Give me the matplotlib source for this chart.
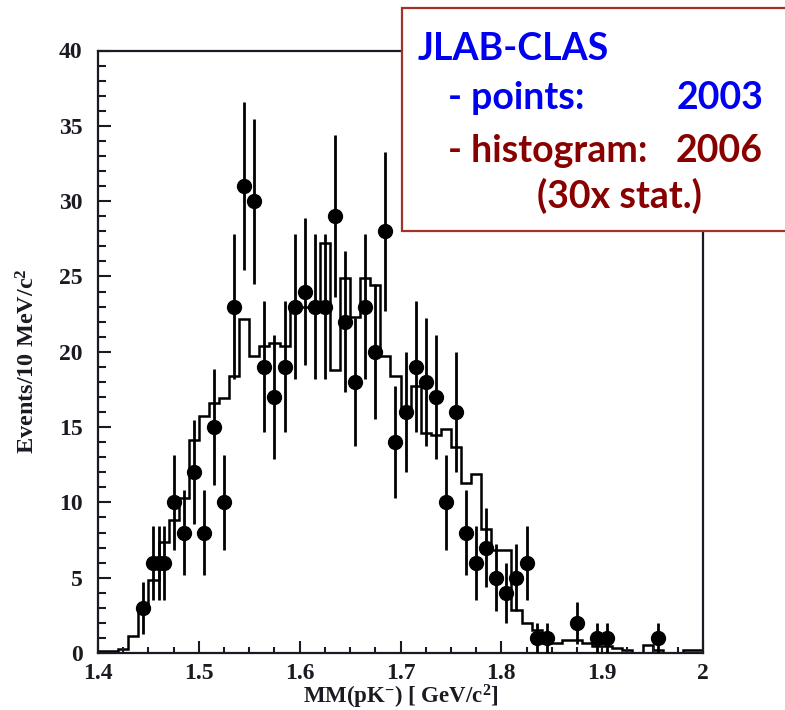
import numpy as np
import matplotlib
matplotlib.use("Agg")
import matplotlib.pyplot as plt
from matplotlib.patches import Rectangle
from matplotlib.ticker import MultipleLocator, FixedFormatter, FixedLocator

plt.rcParams["font.family"] = "Liberation Serif"
plt.rcParams["font.weight"] = "bold"
plt.rcParams["axes.labelweight"] = "bold"
plt.rcParams["mathtext.fontset"] = "custom"
plt.rcParams["mathtext.rm"] = "Liberation Serif:bold"
plt.rcParams["mathtext.it"] = "Liberation Serif:bold"
plt.rcParams["mathtext.bf"] = "Liberation Serif:bold"

# 2006 histogram, 10 MeV bins from 1.40 to 2.00 GeV
hist_edges = np.linspace(1.40, 2.00, 61)
hist_counts = [
    0.15, 0.15, 0.25, 1.1, 3.0, 4.85, 7.4, 8.8, 10.3, 14.15,
    15.75, 16.6, 16.9, 18.4, 22.2, 19.7, 20.4, 20.6, 20.4, 23.0,
    23.0, 23.0, 27.2, 18.8, 24.9, 22.3, 24.9, 24.45, 19.7, 18.4,
    16.0, 17.7, 14.6, 14.5, 14.9, 13.7, 11.3, 11.9, 8.2, 6.85,
    6.85, 2.85, 2.0, 1.5, 0.65, 0.65, 0.85, 0.85, 0.65, 0.45,
    0.45, 0.3, 0.2, 0.0, 0.55, 0.2, 0.0, 0.0, 0.2, 0.2,
]

# 2003 data points
pts_mass = [
    1.445, 1.455, 1.460, 1.465, 1.475, 1.485, 1.495, 1.505, 1.515, 1.525,
    1.535, 1.545, 1.555, 1.565, 1.575, 1.585, 1.595, 1.605, 1.615, 1.625,
    1.635, 1.645, 1.655, 1.665, 1.675, 1.685, 1.695, 1.705, 1.715, 1.725,
    1.735, 1.745, 1.755, 1.765, 1.775, 1.785, 1.795, 1.805, 1.815, 1.825,
    1.835, 1.845, 1.875, 1.895, 1.905, 1.955,
]
pts_counts = [
    3, 6, 6, 6, 10, 8, 12, 8, 15, 10,
    23, 31, 30, 19, 17, 19, 23, 24, 23, 23,
    29, 22, 18, 23, 20, 28, 14, 16, 19, 18,
    17, 10, 16, 8, 6, 7, 5, 4, 5, 6,
    1, 1, 2, 1, 1, 1,
]

x_ticks = [1.4, 1.5, 1.6, 1.7, 1.8, 1.9, 2.0]
x_ticklabels = ["1.4", "1.5", "1.6", "1.7", "1.8", "1.9", "2"]

W, H = 785, 710
fig = plt.figure(figsize=(W / 100, H / 100), dpi=100)
ax = fig.add_axes([98 / W, 1 - 653 / H, (703 - 98) / W, (653 - 50.5) / H])

ax.stairs(hist_counts, hist_edges, color="black", linewidth=1.8, baseline=None)

counts = np.array(pts_counts, dtype=float)
ax.errorbar(pts_mass, counts, yerr=np.sqrt(counts), fmt="o", color="black",
            ms=10, elinewidth=2.0, capsize=0, zorder=3)

ax.set_xlim(1.4, 2.0)
ax.set_ylim(0, 40)
ax.xaxis.set_major_locator(FixedLocator(x_ticks))
ax.xaxis.set_major_formatter(FixedFormatter(x_ticklabels))
ax.xaxis.set_minor_locator(MultipleLocator(0.025))
ax.yaxis.set_major_locator(MultipleLocator(5))
ax.yaxis.set_minor_locator(MultipleLocator(1))

ink = "#1a1a22"
ax.tick_params(which="both", direction="in", top=False, right=False,
               width=1.5, color=ink, labelcolor=ink, labelsize=17)
ax.tick_params(axis="y", which="major", length=9.5, pad=11)
ax.tick_params(axis="y", which="minor", length=5.5)
ax.tick_params(axis="x", which="major", length=9, pad=7)
ax.tick_params(axis="x", which="minor", length=4.5)
for s in ax.spines.values():
    s.set_linewidth(1.6)
    s.set_color(ink)

ax.set_xlabel(r"MM(pK$^{-}$) [ GeV/c$^{2}$]", fontsize=16.5, color=ink)
ax.set_ylabel(r"Events/10 MeV/c$^{2}$", fontsize=17.5, color=ink)
ax.xaxis.label.set_va("baseline")
ax.xaxis.set_label_coords(0.5, -0.083)
ax.yaxis.label.set_va("center")
ax.yaxis.set_label_coords(-0.116, 0.485)

# legend box in the upper right corner
box = Rectangle((401.7 / W, 1 - 231 / H), (W + 20 - 401.7) / W, (231 - 8.3) / H,
                transform=fig.transFigure, facecolor="white", edgecolor="#a3322a",
                linewidth=1.6, clip_on=False, zorder=5)
fig.add_artist(box)

blue = "#0000f0"
maroon = "#880000"
txt = dict(family="Lato", weight="bold", fontsize=27, va="baseline", zorder=6)
fig.text(418 / W, 1 - 60 / H, "JLAB-CLAS", color=blue, ha="left", **txt)
fig.text(448 / W, 1 - 109 / H, "- points:", color=blue, ha="left", **txt)
fig.text(763 / W, 1 - 109 / H, "2003", color=blue, ha="right", **txt)
fig.text(448 / W, 1 - 162 / H, "- histogram:", color=maroon, ha="left", **txt)
fig.text(763 / W, 1 - 162 / H, "2006", color=maroon, ha="right", **txt)
fig.text(537 / W, 1 - 208 / H, "(30x stat.)", color=maroon, ha="left", **txt)

fig.savefig("out.png", dpi=100)
